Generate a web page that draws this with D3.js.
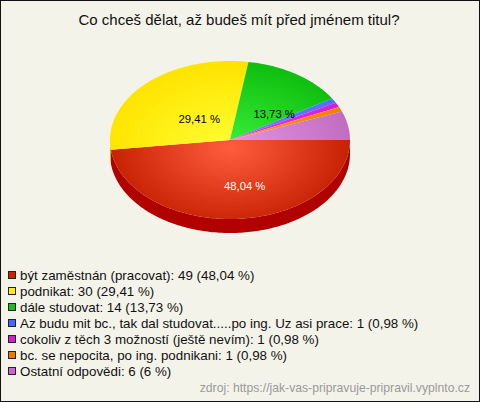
<!DOCTYPE html>
<html><head><meta charset="utf-8">
<script src="https://cdn.jsdelivr.net/npm/d3@7"></script>
<style>html,body{margin:0;padding:0;background:#f4f3ea;}svg{display:block;font-family:"Liberation Sans",Arial,sans-serif;}</style>
</head><body>
<script>
const title = "Co chceš dělat, až budeš mít před jménem titul?";
const categories = ["být zaměstnán (pracovat)", "podnikat", "dále studovat",
  "Az budu mit bc., tak dal studovat.....po ing. Uz asi prace",
  "cokoliv z těch 3 možností (ještě nevím)",
  "bc. se nepocita, po ing. podnikani", "Ostatní odpovědi"];
const counts = [49, 30, 14, 1, 1, 1, 6];
const percentLabels = ["48,04 %", "29,41 %", "13,73 %", "0,98 %", "0,98 %", "0,98 %", "6 %"];
const legendColors = ["#cc2200", "#ffee00", "#22bb22", "#4466ff", "#cc22cc", "#ee7700", "#cc66cc"];
const innerColors = ["#ff5c3e", "#ffff33", "#3cf03c", "#6688ff", "#ee33ee", "#ff9922", "#e496e4"];
const outerColors = ["#c41e00", "#ffe400", "#10c010", "#4f6fff", "#d81cd8", "#f08000", "#c06cc0"];
const sideColors = ["#b00000", "#c8b000", "#0a8a0a", "#3050c0", "#a010a0", "#b05a00", "#905090"];
const source = "zdroj: https://jak-vas-pripravuje-pripravil.vyplnto.cz";

const W = 480, H = 402;
const cx = 230, cy = 140, rx = 120, ry = 79, depth = 14;

const svg = d3.select("body").append("svg").attr("width", W).attr("height", H);
svg.append("rect").attr("x", 0.5).attr("y", 0.5).attr("width", W - 1).attr("height", H - 1)
  .attr("fill", "#f4f3ea").attr("stroke", "#111");

svg.append("text").attr("x", 239).attr("y", 25).attr("text-anchor", "middle")
  .attr("font-size", 15).attr("fill", "#111").text(title);

const defs = svg.append("defs");
categories.forEach((c, i) => {
  const g = defs.append("radialGradient").attr("id", "g" + i)
    .attr("gradientUnits", "userSpaceOnUse")
    .attr("cx", 0).attr("cy", 0).attr("r", 1)
    .attr("gradientTransform", `translate(${cx},${cy + 8}) scale(${rx * 1.05},${ry * 1.05})`);
  g.append("stop").attr("offset", "0%").attr("stop-color", innerColors[i]);
  g.append("stop").attr("offset", "100%").attr("stop-color", outerColors[i]);
});

const pie = d3.pie().sort(null).value(d => d)
  .startAngle(Math.PI / 2).endAngle(Math.PI / 2 + 2 * Math.PI);
const arcs = pie(counts);

const px = a => cx + rx * Math.sin(a);
const py = a => cy - ry * Math.cos(a);
function arcPts(a0, a1, dy) {
  const n = Math.max(2, Math.ceil(Math.abs(a1 - a0) / 0.02));
  return d3.range(n + 1).map(k => {
    const a = a0 + (a1 - a0) * k / n;
    return [px(a), py(a) + dy];
  });
}
const line = d3.line();

const pie3 = svg.append("g");
arcs.forEach((d, i) => {
  const a0 = Math.max(d.startAngle, Math.PI / 2), a1 = Math.min(d.endAngle, 3 * Math.PI / 2);
  if (a1 <= a0) return;
  const top = arcPts(a0, a1, 0), bot = arcPts(a1, a0, depth);
  pie3.append("path").attr("d", line(top.concat(bot)) + "Z").attr("fill", sideColors[i]);
});
arcs.forEach((d, i) => {
  const pts = [[cx, cy]].concat(arcPts(d.startAngle, d.endAngle, 0));
  pie3.append("path").attr("d", line(pts) + "Z").attr("fill", `url(#g${i})`);
});
arcs.forEach((d, i) => {
  if (d.endAngle - d.startAngle < 0.5) return;
  const m = (d.startAngle + d.endAngle) / 2;
  svg.append("text").attr("x", cx + 0.5 * rx * Math.sin(m) + 11).attr("y", cy - 0.5 * ry * Math.cos(m) + 11)
    .attr("text-anchor", "middle").attr("font-size", 11.3)
    .attr("fill", i === 0 ? "#ffffff" : "#000000").text(percentLabels[i]);
});

const lg = svg.append("g");
categories.forEach((c, i) => {
  const y = 275 + i * 16;
  lg.append("rect").attr("x", 8.5).attr("y", y - 3.5).attr("width", 7).attr("height", 7)
    .attr("fill", legendColors[i]).attr("stroke", "#222");
  lg.append("text").attr("x", 20).attr("y", y + 4.5).attr("font-size", 13.35).attr("fill", "#111")
    .text(`${c}: ${counts[i]} (${percentLabels[i]})`);
});

svg.append("text").attr("x", 470).attr("y", 392).attr("text-anchor", "end")
  .attr("font-size", 12.2).attr("fill", "#9a9a9a").text(source);
</script>
</body></html>
